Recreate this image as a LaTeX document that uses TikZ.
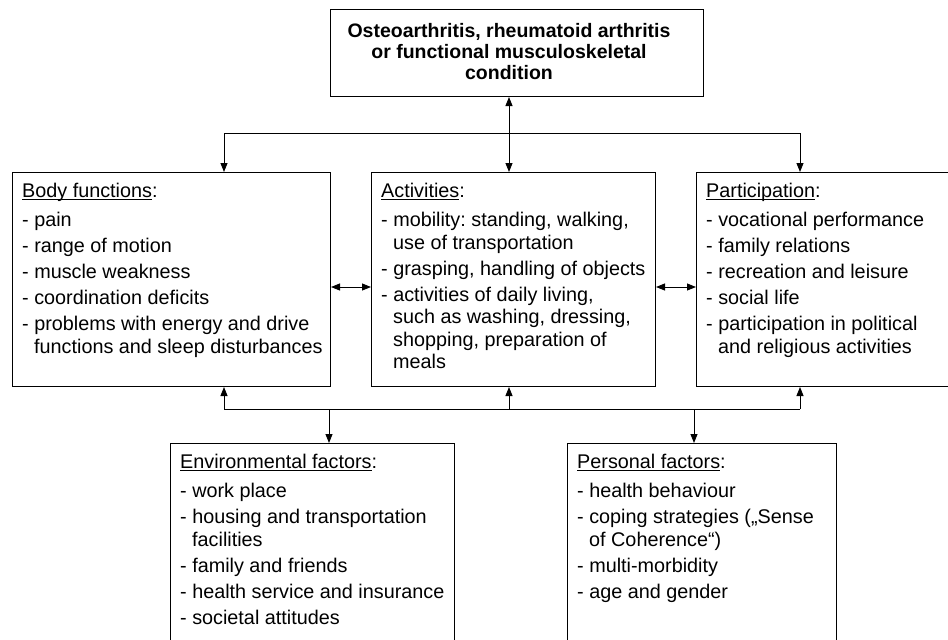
\documentclass[tikz,border=0pt]{standalone}
\usepackage{fontspec}
\setmainfont{Liberation Sans}
\usetikzlibrary{arrows.meta}
\frenchspacing

\tikzset{
  box/.style={draw, line width=1pt, anchor=north west, inner sep=0pt},
  txt/.style={anchor=north west, align=left, inner sep=0pt,
              font=\fontsize{19.8}{22.5}\selectfont},
  arr/.style={-{Triangle[length=9pt,width=7pt]}, line width=0.9pt},
  arrs/.style={{Triangle[length=9pt,width=7pt]}-{Triangle[length=9pt,width=7pt]}, line width=0.9pt}
}
% heading with a word-style underline
\newcommand{\ul}[1]{\setbox0\hbox{#1}\rlap{\rule[-3.4pt]{\wd0}{1.3pt}}\box0}
\newcommand{\ind}{\hspace*{12pt}}

\begin{document}
\begin{tikzpicture}[x=1pt,y=-1pt]
    \useasboundingbox (0,0) rectangle (948,640);
    \clip (0,0) rectangle (948,640);

    % boxes
    \node[box, minimum width=373, minimum height=87] (top) at (330,9) {};
    \node[box, minimum width=318, minimum height=214] (body) at (12,172) {};
    \node[box, minimum width=284, minimum height=214] (act) at (371,172) {};
    \node[box, minimum width=270, minimum height=214] (part) at (696,172) {};
    \node[box, minimum width=284, minimum height=220] (env) at (170,443) {};
    \node[box, minimum width=269, minimum height=220] (pers) at (567,443) {};

    % texts
    \node[align=center, inner sep=0pt, font=\bfseries\fontsize{19.5}{21}\selectfont] (toptxt) at (509,52)
        {Osteoarthritis, rheumatoid arthritis\\or functional musculoskeletal\\condition};
    \node[txt] (bodytxt) at ([shift={(10pt,-10.5pt)}]body.north west) {\ul{Body functions}:\\[7pt]
        - pain\\[3.5pt]
        - range of motion\\[3.5pt]
        - muscle weakness\\[3.5pt]
        - coordination deficits\\[3.5pt]
        - problems with energy and drive\\
        \ind functions and sleep disturbances};
    \node[txt] (acttxt) at ([shift={(10pt,-10.5pt)}]act.north west) {\ul{Activities}:\\[7pt]
        - mobility: standing, walking,\\
        \ind use of transportation\\[3.5pt]
        - grasping, handling of objects\\[3.5pt]
        - activities of daily living,\\
        \ind such as washing, dressing,\\
        \ind shopping, preparation of\\
        \ind meals};
    \node[txt] (parttxt) at ([shift={(10pt,-10.5pt)}]part.north west) {\ul{Participation}:\\[7pt]
        - vocational performance\\[3.5pt]
        - family relations\\[3.5pt]
        - recreation and leisure\\[3.5pt]
        - social life\\[3.5pt]
        - participation in political\\
        \ind and religious activities};
    \node[txt] (envtxt) at ([shift={(10pt,-10.5pt)}]env.north west) {\ul{Environmental factors}:\\[7pt]
        - work place\\[3.5pt]
        - housing and transportation\\
        \ind facilities\\[3.5pt]
        - family and friends\\[3.5pt]
        - health service and insurance\\[3.5pt]
        - societal attitudes};
    \node[txt] (perstxt) at ([shift={(10pt,-10.5pt)}]pers.north west) {\ul{Personal factors}:\\[7pt]
        - health behaviour\\[3.5pt]
        - coping strategies („Sense\\
        \ind of Coherence“)\\[3.5pt]
        - multi-morbidity\\[3.5pt]
        - age and gender};

    % upper connectors
    \coordinate (tl) at (224,133);
    \coordinate (tm) at (509,133);
    \coordinate (tr) at (800,133);
    \draw[line width=0.9pt] (tl) -- (tr);
    \draw[arr] (tm) -- (top.south -| tm);
    \draw[arr] (tl) -- (body.north -| tl);
    \draw[arr] (tm) -- (act.north -| tm);
    \draw[arr] (tr) -- (part.north -| tr);

    % side arrows
    \coordinate (mid) at (0,287);
    \draw[arrs] (body.east |- mid) -- (act.west |- mid);
    \draw[arrs] (act.east |- mid) -- (part.west |- mid);

    % lower connectors
    \coordinate (bl) at (224,409);
    \coordinate (bm) at (509,409);
    \coordinate (br) at (800,409);
    \coordinate (be) at (329,409);
    \coordinate (bp) at (694,409);
    \draw[line width=0.9pt] (bl) -- (br);
    \draw[arr] (bl) -- (body.south -| bl);
    \draw[arr] (bm) -- (act.south -| bm);
    \draw[arr] (br) -- (part.south -| br);
    \draw[arr] (be) -- (env.north -| be);
    \draw[arr] (bp) -- (pers.north -| bp);
\end{tikzpicture}
\end{document}
